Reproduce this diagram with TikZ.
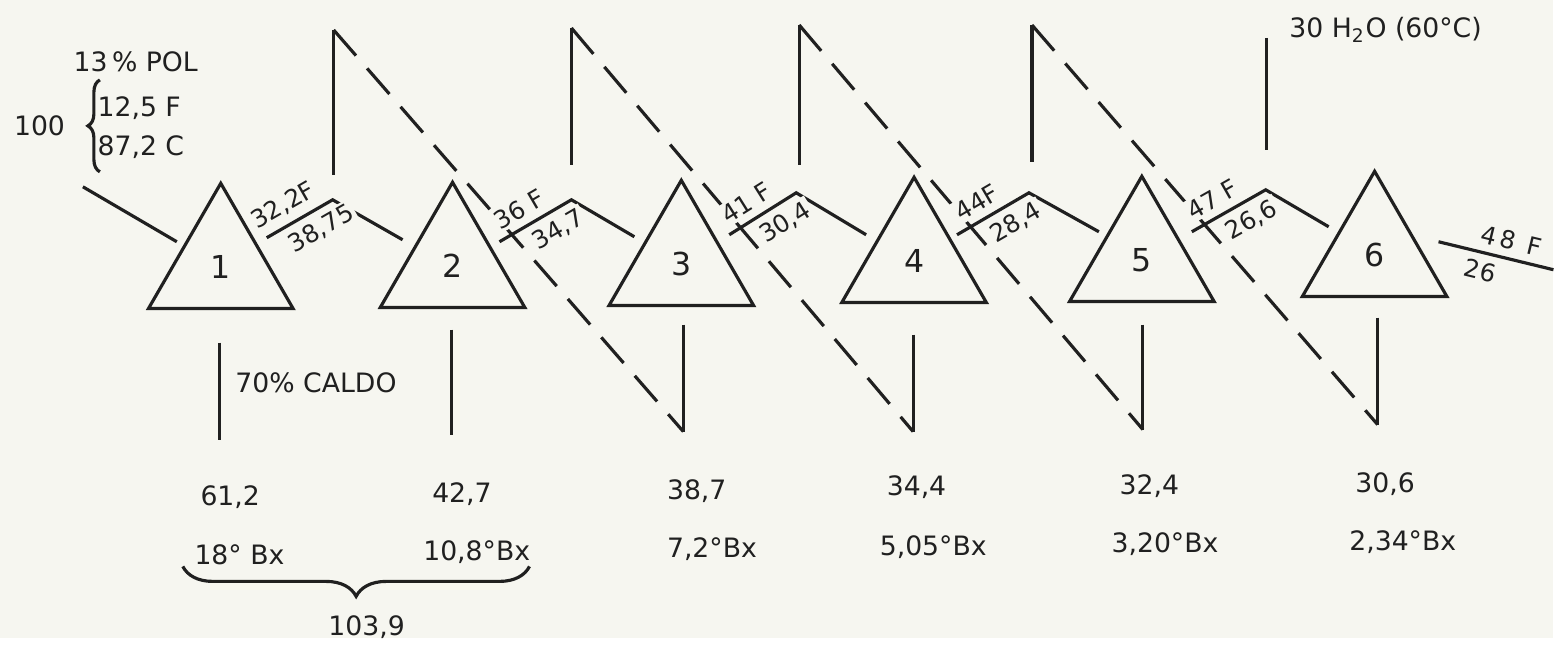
\documentclass[tikz,border=0pt]{standalone}
\usepackage{fontspec}
\setmainfont{DejaVu Sans}
\usepackage{tikz}
\usetikzlibrary{shapes.geometric,decorations.pathreplacing,positioning}
\newcommand{\lettersize}[1]{\fontsize{#1}{#1}\selectfont}
\definecolor{paper}{RGB}{246,246,240}
\definecolor{ink}{RGB}{32,32,32}
\tikzset{
  stage/.style={draw=ink,regular polygon,regular polygon sides=3,
                minimum size=16.7mm,inner sep=0pt,line width=0.9pt,
                text=ink,font=\lettersize{9}},
  fl/.style={draw=ink,line width=0.9pt},
  fld/.style={fl,dash pattern=on 3.4mm off 1.7mm},
  lbl/.style={text=ink,font=\lettersize{7.6},inner sep=1.5pt},
  slbl/.style={lbl,font=\lettersize{7},sloped,fill=paper,inner sep=0.8pt,
               outer sep=1.8pt},
  val/.style={lbl,anchor=west,inner sep=0pt},
}

\begin{document}
\begin{tikzpicture}[x=0.1mm,y=-0.1mm]
\fill[paper] (0,0) rectangle (1555,639);
% mills
\node[stage] (t1) at (221,267) {1};
\node[stage] (t2) at (453,266) {2};
\node[stage] (t3) at (682,264) {3};
\node[stage] (t4) at (915,261) {4};
\node[stage] (t5) at (1143,260) {5};
\node[stage] (t6) at (1376,255) {6};
% cane feed
\node[val] (pol) at (73,62) {13\,\% POL};
\coordinate (br1) at (100,172);
\coordinate (br2) at (100,80);
\coordinate (brtip) at (86,126);
\draw[fl,decorate,decoration={brace,amplitude=1.2mm}] (br1) -- (br2);
\node[lbl, left=1.5mm of brtip] (cane) {100};
\node[val] (fib) at (97,108) {12,5 F};
\node[val] (cld) at (97,147) {87,2 C};
\coordinate (feed) at (83,187);
\coordinate (feedin) at (177,242);
\draw[fl] (feed) -- (feedin);
% juice returned over the bagasse
\coordinate (q1) at (334,30);   \coordinate (q1b) at (334,175);
\coordinate (q2) at (572,28);   \coordinate (q2b) at (572,165);
\coordinate (q3) at (800,25);   \coordinate (q3b) at (800,165);
\coordinate (q4) at (1033,25);  \coordinate (q4b) at (1033,162);
\coordinate (q5) at (1268,38);  \coordinate (q5b) at (1268,150);
\draw[fl] (q1) -- (q1b);
\draw[fl] (q2) -- (q2b);
\draw[fl] (q3) -- (q3b);
\draw[fl] (q4) -- (q4b);
\draw[fl] (q5) -- (q5b);
\node[val] (water) at (1290,30) {30 H\textsubscript{2}O (60°C)};
% juice out of each mill
\coordinate (s1) at (220,343);  \coordinate (e1) at (220,440);
\coordinate (s2) at (452,330);  \coordinate (e2) at (452,435);
\coordinate (s3) at (684,325);  \coordinate (e3) at (684,432);
\coordinate (s4) at (914,335);  \coordinate (e4) at (914,432);
\coordinate (s5) at (1144,325); \coordinate (e5) at (1144,430);
\coordinate (s6) at (1379,318); \coordinate (e6) at (1379,425);
\draw[fl] (s1) -- (e1);
\draw[fl] (s2) -- (e2);
\draw[fl] (s3) -- (e3);
\draw[fl] (s4) -- (e4);
\draw[fl] (s5) -- (e5);
\draw[fl] (s6) -- (e6);
\draw[fld] (q1) -- (e3);
\draw[fld] (q2) -- (e4);
\draw[fld] (q3) -- (e5);
\draw[fld] (q4) -- (e6);
\node[val] (caldo) at (235,383) {70\% CALDO};
% bagasse between mills
\coordinate (r1a) at (267,238); \coordinate (pk1) at (333,200); \coordinate (r1b) at (403,240);
\coordinate (r2a) at (500,242); \coordinate (pk2) at (572,200); \coordinate (r2b) at (635,237);
\coordinate (r3a) at (730,235); \coordinate (pk3) at (797,193); \coordinate (r3b) at (867,235);
\coordinate (r4a) at (958,235); \coordinate (pk4) at (1030,193); \coordinate (r4b) at (1100,232);
\coordinate (r5a) at (1193,232); \coordinate (pk5) at (1267,190); \coordinate (r5b) at (1330,227);
\draw[fl] (r1a) -- node[slbl,above,pos=0.4]{32,2F} node[slbl,below,pos=0.68]{38,75} (pk1) -- (r1b);
\draw[fl] (r2a) -- node[slbl,above,pos=0.4]{36 F} node[slbl,below,pos=0.68]{34,7} (pk2) -- (r2b);
\draw[fl] (r3a) -- node[slbl,above,pos=0.4]{41 F} node[slbl,below,pos=0.68]{30,4} (pk3) -- (r3b);
\draw[fl] (r4a) -- node[slbl,above,pos=0.4]{44F} node[slbl,below,pos=0.68]{28,4} (pk4) -- (r4b);
\draw[fl] (r5a) -- node[slbl,above,pos=0.4]{47 F} node[slbl,below,pos=0.68]{26,6} (pk5) -- (r5b);
% final bagasse
\coordinate (outa) at (1440,242);
\coordinate (outb) at (1555,270);
\draw[fl] (outa) -- node[slbl,above,pos=0.6]{4\,8\enspace F} node[slbl,below,pos=0.4]{26} (outb);
% juice quantities
\node[val] (v1) at (200,498) {61,2};
\node[val] (v2) at (432,495) {42,7};
\node[val] (v3) at (667,492) {38,7};
\node[val] (v4) at (887,488) {34,4};
\node[val] (v5) at (1120,487) {32,4};
\node[val] (v6) at (1356,485) {30,6};
\node[val] (bx1) at (194,555) {18° Bx};
\node[val] (bx2) at (423,553) {10,8°Bx};
\node[val] (bx3) at (667,550) {7,2°Bx};
\node[val] (bx4) at (880,548) {5,05°Bx};
\node[val] (bx5) at (1112,545) {3,20°Bx};
\node[val] (bx6) at (1350,543) {2,34°Bx};
\coordinate (bb1) at (183,567);
\coordinate (bb2) at (530,567);
\draw[fl,decorate,decoration={brace,mirror,amplitude=3mm}] (bb1) -- (bb2);
\node[lbl] (mix) at (367,628) {103,9};
\end{tikzpicture}
\end{document}
